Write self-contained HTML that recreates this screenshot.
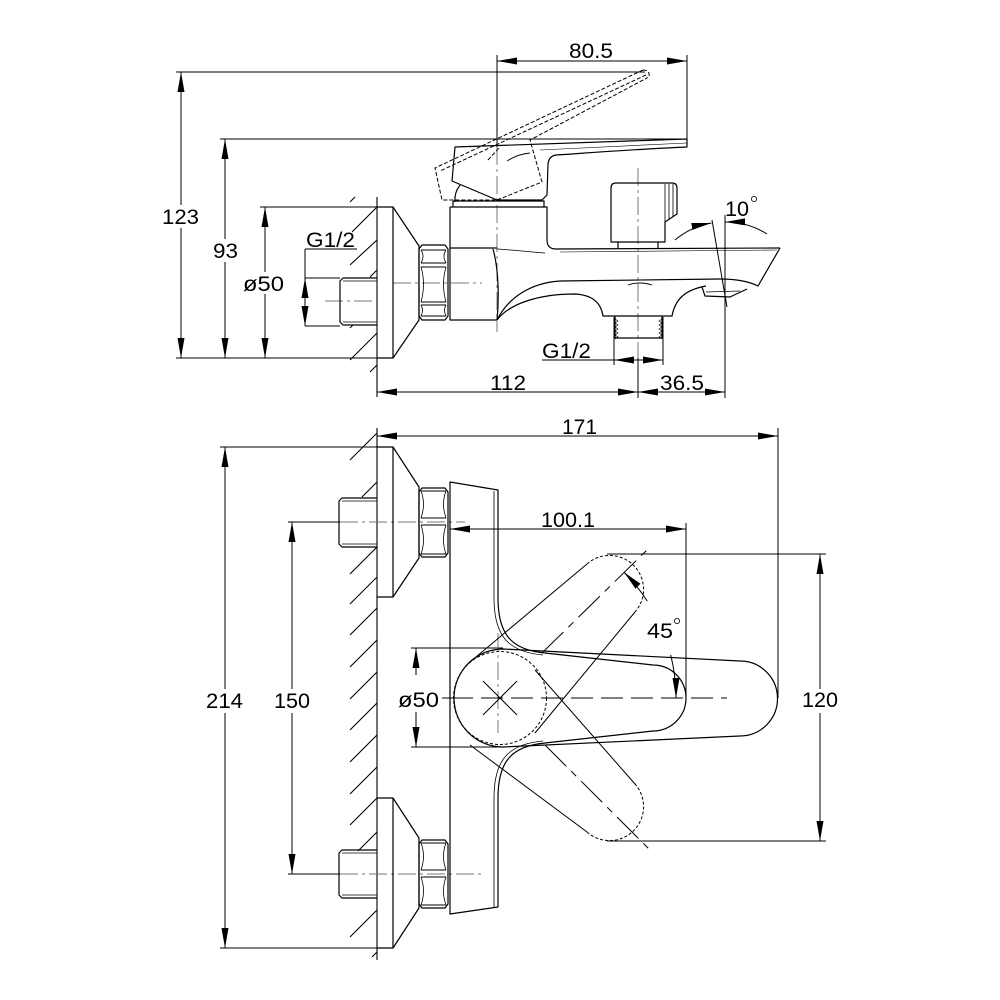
<!DOCTYPE html>
<html><head><meta charset="utf-8"><style>
html,body{margin:0;padding:0;background:#fff}
svg{display:block}
text{font-family:"Liberation Sans",Arial,sans-serif;font-size:21px;fill:#000}
</style></head><body>
<svg width="1000" height="1000" viewBox="0 0 1000 1000" xmlns="http://www.w3.org/2000/svg">
<defs>
<marker id="a" markerUnits="userSpaceOnUse" markerWidth="20" markerHeight="8" refX="20" refY="4" orient="auto-start-reverse" viewBox="0 0 20 8"><path d="M0,0.5 L20,4 L0,7.5 z" fill="#000"/></marker>
</defs>
<rect width="1000" height="1000" fill="#fff"/>

<!-- ================= SIDE VIEW ================= -->
<g fill="none" stroke="#000" stroke-width="1">
<line x1="176" y1="72" x2="645" y2="72"/>
<line x1="220" y1="139" x2="687" y2="139"/>
<line x1="260" y1="207" x2="393" y2="207"/>
<line x1="176" y1="358" x2="393" y2="358"/>
<line x1="497" y1="55" x2="497" y2="147"/>
<line x1="687" y1="55" x2="687" y2="139"/>
<line x1="497" y1="61" x2="687" y2="61" marker-start="url(#a)" marker-end="url(#a)"/>
<line x1="181" y1="205" x2="181" y2="72" marker-end="url(#a)"/>
<line x1="181" y1="228" x2="181" y2="358" marker-end="url(#a)"/>
<line x1="225" y1="239" x2="225" y2="139" marker-end="url(#a)"/>
<line x1="225" y1="262" x2="225" y2="358" marker-end="url(#a)"/>
<line x1="265" y1="272" x2="265" y2="207" marker-end="url(#a)"/>
<line x1="265" y1="294" x2="265" y2="358" marker-end="url(#a)"/>
<line x1="305" y1="249" x2="357" y2="249"/>
<line x1="305" y1="249" x2="305" y2="326"/>
<line x1="305" y1="278" x2="340" y2="278"/>
<line x1="305" y1="326" x2="340" y2="326"/>
<line x1="305" y1="300" x2="305" y2="278" marker-end="url(#a)"/>
<line x1="305" y1="304" x2="305" y2="326" marker-end="url(#a)"/>
<line x1="377" y1="392" x2="638" y2="392" marker-start="url(#a)" marker-end="url(#a)"/>
<line x1="638" y1="392" x2="725" y2="392" marker-start="url(#a)" marker-end="url(#a)"/>
<line x1="638" y1="358" x2="638" y2="398"/>
<line x1="725" y1="215" x2="725" y2="398"/>
<line x1="542" y1="360" x2="614" y2="360"/>
<line x1="614" y1="317" x2="614" y2="365"/>
<line x1="663" y1="317" x2="663" y2="365"/>
<line x1="638" y1="360" x2="614" y2="360" marker-end="url(#a)"/>
<line x1="638" y1="360" x2="663" y2="360" marker-end="url(#a)"/>
<line x1="712" y1="220" x2="727" y2="307"/>
<path d="M675,240 A78,78 0 0 1 711.5,223" marker-end="url(#a)"/>
<path d="M767,234 A78,78 0 0 0 725,222" marker-end="url(#a)"/>
</g>

<g fill="none" stroke="#000" stroke-width="1.1">
<line x1="377" y1="197" x2="377" y2="397"/>
<line x1="350" y1="202" x2="355" y2="197"/>
<line x1="352" y1="232" x2="377" y2="207"/>
<line x1="350" y1="265" x2="377" y2="240"/>
<line x1="370" y1="277" x2="377" y2="270"/>
<line x1="350" y1="328" x2="353" y2="325"/>
<line x1="350" y1="360" x2="377" y2="333"/>
<line x1="370" y1="372" x2="377" y2="365"/>
</g>

<g fill="none" stroke="#777" stroke-width="1" stroke-dasharray="18,4,3,4">
<line x1="325" y1="301" x2="377" y2="301"/>
<line x1="393" y1="283" x2="482" y2="283"/>
<line x1="497" y1="147" x2="497" y2="332"/>
<line x1="638" y1="168" x2="638" y2="358"/>
</g>

<g fill="none" stroke="#000" stroke-width="1.2" stroke-linejoin="round">
<path d="M377,207 L393,207 L419,246 L419,320 L393,358 L377,358"/>
<line x1="393" y1="207" x2="393" y2="358"/>
<path d="M377,278 L343,278 L340,281 L340,322 L343,325 L377,325"/>
<line x1="343" y1="281" x2="377" y2="281" stroke-width="0.7"/>
<line x1="343" y1="322" x2="377" y2="322" stroke-width="0.7"/>
<path d="M422,245 L445,245 L448,249 L448,316 L445,320 L422,320 L419,316 L419,249 Z"/>
<path d="M421,250 L446,250 M421,263 L446,263 M421,267 L446,267 M421,302 L446,302 M421,305 L446,305 M421,316 L446,316" stroke-width="0.9"/>
<path d="M421,250 Q425,256 421,263 M446,250 Q442,256 446,263 M421,267 Q426,284 421,302 M446,267 Q441,284 446,302 M421,305 Q424,310 421,316 M446,305 Q443,310 446,316" stroke-width="0.8"/>

<path d="M450,207 L450,320 L497,320"/>
<path d="M450,207 L547,207 L547,240 Q547,249 556,249 L780,248"/>
<line x1="450" y1="248" x2="497" y2="248"/>
<path d="M497,249 C515,250 530,252 545,253" stroke-width="0.8"/>
<path d="M560,252 L777,250" stroke-width="0.6"/>
<path d="M493,249 C499,270 499,300 497,320"/>
<path d="M497,320 C508,298 530,283 560,281 L720,279 C738,279 750,282 758,286 L780,248"/>
<path d="M497,320 C510,303 540,294 575,294 C593,295 601,303 603,316 L672,316 C675,300 684,290 706,286"/>
<path d="M628,285 Q640,281 652,285" stroke-width="0.9"/>
<path d="M702,287 L705,296 L730,297 L747,289"/>
<path d="M706,292 L740,291" stroke-width="0.8"/>
<path d="M615,316 L615,338 L662,338 L662,316"/>
<path d="M615,319 l3,2 l-3,2 l3,2 l-3,2 l3,2 l-3,2 l3,2 l-3,2 l3,2 l-3,2 M662,319 l-3,2 l3,2 l-3,2 l3,2 l-3,2 l3,2 l-3,2 l3,2 l-3,2 l3,2" stroke-width="0.7"/>
<path d="M611,242 L611,188 Q611,183 616,183 L672,183 Q677,183 677,188 L677,214 L665,222 L665,242 Z"/>
<path d="M665,184 L665,222 M669,184 L669,219 M673,184 L673,216" stroke-width="0.8"/>
<path d="M618,242 L618,248 M658,242 L658,248"/>
<path d="M453,201 L544,201 L544,207 M453,201 L453,207"/>
<path d="M455,147 L687,139 L687,147 C640,149 600,152 556,155 Q549,156 548,164 L547,195 L542,200 L497,200 L452,181 Z"/>
<path d="M507,161 Q518,154 530,153" stroke-width="0.9"/>
<path d="M460,185 Q454,193 455,202"/>
<path d="M540,150 L687,143" stroke-width="0.6"/>
</g>
<g fill="none" stroke="#000" stroke-width="1" stroke-dasharray="4,2">
<path d="M643,70 L435,168 L442,200 L497,200 L542,182 L530,140 L647,78"/>
<path d="M646,75 L440,171"/>
<path d="M643,70 Q650,70 649,76 L647,78"/>
<path d="M488,160 L499,148"/>
</g>

<!-- ================= PLAN VIEW ================= -->
<g fill="none" stroke="#000" stroke-width="1">
<line x1="377" y1="436" x2="778" y2="436" marker-start="url(#a)" marker-end="url(#a)"/>
<line x1="778" y1="428" x2="778" y2="698"/>
<line x1="220" y1="447" x2="393" y2="447"/>
<line x1="220" y1="948" x2="393" y2="948"/>
<line x1="225" y1="689" x2="225" y2="447" marker-end="url(#a)"/>
<line x1="225" y1="713" x2="225" y2="948" marker-end="url(#a)"/>
<line x1="288" y1="522" x2="340" y2="522"/>
<line x1="288" y1="874" x2="340" y2="874"/>
<line x1="292" y1="689" x2="292" y2="522" marker-end="url(#a)"/>
<line x1="292" y1="713" x2="292" y2="874" marker-end="url(#a)"/>
<line x1="411" y1="648" x2="503" y2="648"/>
<line x1="411" y1="747" x2="503" y2="747"/>
<line x1="416" y1="675" x2="416" y2="648" marker-end="url(#a)"/>
<line x1="416" y1="712" x2="416" y2="747" marker-end="url(#a)"/>
<line x1="442" y1="698" x2="451" y2="698"/>
<line x1="450" y1="529" x2="686" y2="529" marker-start="url(#a)" marker-end="url(#a)"/>
<line x1="686" y1="523" x2="686" y2="698"/>
<line x1="607" y1="554" x2="826" y2="554"/>
<line x1="607" y1="841" x2="826" y2="841"/>
<line x1="820" y1="689" x2="820" y2="554" marker-end="url(#a)"/>
<line x1="820" y1="713" x2="820" y2="841" marker-end="url(#a)"/>
<path d="M647.3,601.1 A178,178 0 0 0 623.9,572.1" marker-end="url(#a)"/>
<path d="M670.7,654.9 A178,178 0 0 1 676,698" marker-end="url(#a)"/>
</g>

<g fill="none" stroke="#000" stroke-width="1.1">
<line x1="377" y1="428" x2="377" y2="960"/>
<line x1="350" y1="460" x2="377" y2="433"/>
<line x1="362" y1="497" x2="377" y2="482"/>
<line x1="350" y1="574" x2="377" y2="547"/>
<line x1="350" y1="604" x2="377" y2="577"/>
<line x1="350" y1="635" x2="377" y2="608"/>
<line x1="350" y1="667" x2="377" y2="640"/>
<line x1="350" y1="699" x2="377" y2="672"/>
<line x1="350" y1="730" x2="377" y2="703"/>
<line x1="350" y1="762" x2="377" y2="735"/>
<line x1="350" y1="794" x2="377" y2="767"/>
<line x1="350" y1="825" x2="377" y2="798"/>
<line x1="358" y1="851" x2="377" y2="832"/>
<line x1="350" y1="937" x2="377" y2="910"/>
<line x1="372" y1="957" x2="377" y2="952"/>
</g>

<g fill="none" stroke="#777" stroke-width="1" stroke-dasharray="18,4,3,4">
<line x1="340" y1="522" x2="465" y2="522"/>
<line x1="340" y1="874" x2="485" y2="874"/>
<line x1="498" y1="633" x2="498" y2="733"/>
</g>
<g fill="none" stroke="#000" stroke-width="1">
<line x1="451" y1="698" x2="727" y2="698" stroke-dasharray="22,8"/>
<line x1="542" y1="653" x2="647" y2="550" stroke-dasharray="30,7,7,7"/>
<line x1="545" y1="745" x2="650" y2="850" stroke-dasharray="30,7,7,7"/>
<line x1="483" y1="681" x2="517" y2="715"/>
<line x1="483" y1="715" x2="517" y2="681"/>
</g>

<g fill="none" stroke="#000" stroke-width="1.2" stroke-linejoin="round">
<path d="M377,447 L393,447 L419,487 L419,558 L393,597 L377,597"/>
<line x1="393" y1="447" x2="393" y2="597"/>
<path d="M377,498 L342,498 L339,501 L339,544 L342,547 L377,547"/>
<line x1="342" y1="501" x2="377" y2="501" stroke-width="0.7"/>
<line x1="342" y1="544" x2="377" y2="544" stroke-width="0.7"/>
<path d="M422,488 L445,488 L448,492 L448,553 L445,557 L422,557 L419,553 L419,492 Z"/>
<path d="M421,491 L446,491 M421,518 L446,518 M421,525 L446,525 M421,554 L446,554" stroke-width="0.9"/>
<path d="M421,491 Q426,504 421,518 M446,491 Q441,504 446,518 M421,525 Q426,540 421,554 M446,525 Q441,540 446,554" stroke-width="0.8"/>
<path d="M377,798 L393,798 L419,838 L419,908 L393,948 L377,948"/>
<line x1="393" y1="798" x2="393" y2="948"/>
<path d="M377,850 L342,850 L339,853 L339,895 L342,898 L377,898"/>
<line x1="342" y1="853" x2="377" y2="853" stroke-width="0.7"/>
<line x1="342" y1="895" x2="377" y2="895" stroke-width="0.7"/>
<path d="M422,840 L445,840 L448,844 L448,904 L445,908 L422,908 L419,904 L419,844 Z"/>
<path d="M421,843 L446,843 M421,870 L446,870 M421,877 L446,877 M421,905 L446,905" stroke-width="0.9"/>
<path d="M421,843 Q426,856 421,870 M446,843 Q441,856 446,870 M421,877 Q426,891 421,905 M446,877 Q441,891 446,905" stroke-width="0.8"/>

<path d="M450,482 L498,490 L498,598 C498,635 512,650 545,653 L653,665 A33,33 0 0 1 653,731 L545,743 C512,746 498,761 498,798 L498,907 L450,914 Z"/>
<path d="M494,491 L494,598 C494,638 510,652 543,655" stroke-width="0.8"/>
<path d="M543,741 C510,744 494,758 494,798 L494,907" stroke-width="0.8"/>
<path d="M503,649 L740,661 A37.5,37.5 0 0 1 740,736 L503,747 A49,49 0 1 1 503,649 Z"/>
<path d="M470,662 L587,564 M635,612 L535,733" stroke-width="1"/>
<path d="M470,745 L587,832 M635,784 L535,670" stroke-width="1"/>
</g>
<g fill="none" stroke="#000" stroke-width="1" stroke-dasharray="3,2">
<path d="M587,564 A34,34 0 0 1 635,612"/>
<path d="M587,832 A34,34 0 0 0 635,784"/>
<circle cx="500" cy="698" r="46.5"/>
</g>

<!-- ================= TEXT ================= -->
<text x="569" y="58" textLength="44" lengthAdjust="spacingAndGlyphs">80.5</text>
<text x="162" y="224" textLength="37" lengthAdjust="spacingAndGlyphs">123</text>
<text x="213" y="258" textLength="25" lengthAdjust="spacingAndGlyphs">93</text>
<text x="306" y="247" textLength="49" lengthAdjust="spacingAndGlyphs">G1/2</text>
<text x="243" y="291" textLength="41" lengthAdjust="spacingAndGlyphs">ø50</text>
<text x="725" y="216" textLength="24" lengthAdjust="spacingAndGlyphs">10</text>
<circle cx="754" cy="199" r="2.6" fill="none" stroke="#000" stroke-width="0.8"/>
<text x="542" y="358" textLength="49" lengthAdjust="spacingAndGlyphs">G1/2</text>
<text x="490" y="390" textLength="36" lengthAdjust="spacingAndGlyphs">112</text>
<text x="660" y="390" textLength="44" lengthAdjust="spacingAndGlyphs">36.5</text>
<text x="562" y="434" textLength="35" lengthAdjust="spacingAndGlyphs">171</text>
<text x="541" y="527" textLength="54" lengthAdjust="spacingAndGlyphs">100.1</text>
<text x="647" y="638" textLength="26" lengthAdjust="spacingAndGlyphs">45</text>
<circle cx="677" cy="621" r="2.6" fill="none" stroke="#000" stroke-width="0.8"/>
<text x="206" y="708" textLength="37" lengthAdjust="spacingAndGlyphs">214</text>
<text x="274" y="708" textLength="36" lengthAdjust="spacingAndGlyphs">150</text>
<text x="398" y="707" textLength="41" lengthAdjust="spacingAndGlyphs">ø50</text>
<text x="802" y="707" textLength="36" lengthAdjust="spacingAndGlyphs">120</text>
</svg>
</body></html>
